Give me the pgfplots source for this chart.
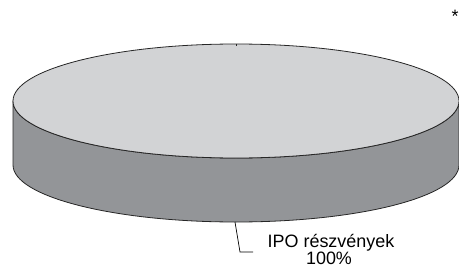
\documentclass[border=0pt]{standalone}
\usepackage{fontspec}
\setmainfont{Liberation Sans}
\usepackage{pgfplots}
\usepackage{pgfplotstable}
\pgfplotsset{compat=1.18}
\definecolor{topgray}{HTML}{D2D3D5}
\definecolor{sidegray}{HTML}{939598}
\pgfplotstableread[col sep=comma]{
label,value
IPO részvények,100
}\piedata
\begin{document}
\begin{tikzpicture}
\pgfplotstablegetelem{0}{label}\of\piedata \let\slicelabel\pgfplotsretval
\pgfplotstablegetelem{0}{value}\of\piedata \let\slicevalue\pgfplotsretval
\begin{axis}[
  width=459bp, height=269bp, scale only axis,
  xmin=0, xmax=459, ymin=0, ymax=269, y dir=reverse,
  hide axis, clip=false,
]
% single slice centre (data point, invisible)
\addplot[draw=none, mark=none] coordinates {(236,101)};
% side of the cylinder
\filldraw[fill=sidegray, draw=black!85, line width=0.8bp]
  (axis cs:13,101) -- (axis cs:13,165)
  arc[start angle=180, end angle=360, x radius=223bp, y radius=57bp]
  -- (axis cs:459,101)
  arc[start angle=0, end angle=-180, x radius=223bp, y radius=57bp] -- cycle;
% top of the cylinder
\filldraw[fill=topgray, draw=black!85, line width=0.8bp]
  (axis cs:236,101) ellipse[x radius=223bp, y radius=57bp];
\draw[black!85, line width=0.6bp] (axis cs:236,44) -- (axis cs:236,46);
% leader line
\draw[black, line width=0.7bp] (axis cs:235,222) -- (axis cs:240,252) -- (axis cs:253,252);
\node[anchor=base, font=\fontsize{18}{22}\selectfont, inner sep=0pt]
  at (axis cs:331,247) {\slicelabel};
\node[anchor=base, font=\fontsize{18}{22}\selectfont, inner sep=0pt]
  at (axis cs:329,264) {\slicevalue\%};
\node[anchor=base, font=\fontsize{18}{18}\selectfont, inner sep=0pt] at (axis cs:455,23) {*};
\end{axis}
\pgfresetboundingbox
\path (current axis.south west) rectangle (current axis.north east);
\end{tikzpicture}
\end{document}
